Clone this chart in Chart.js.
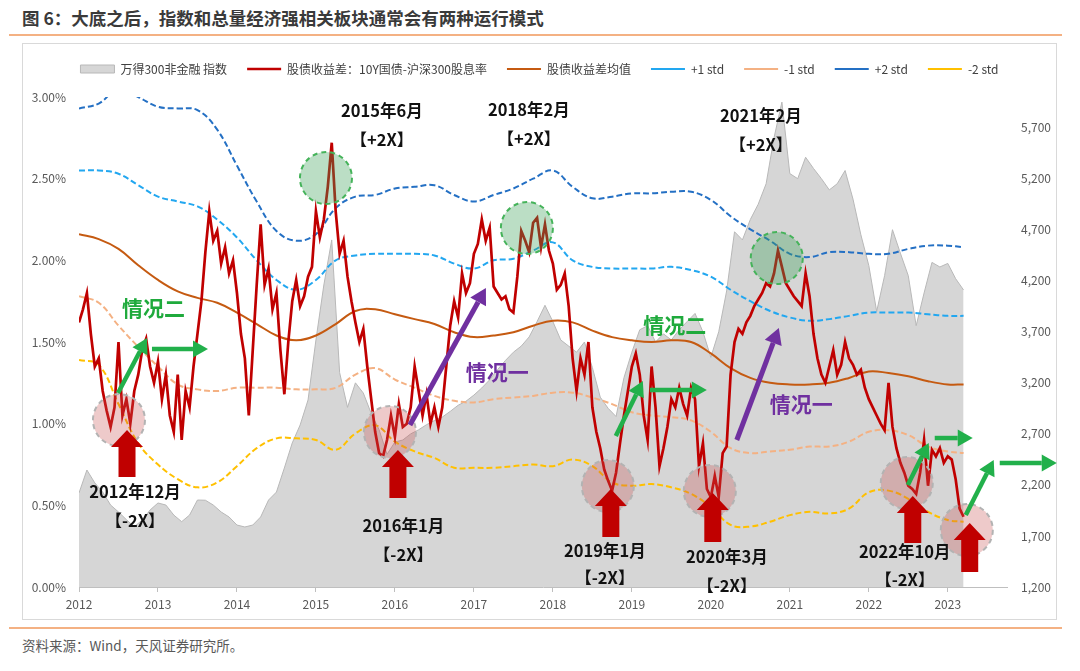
<!DOCTYPE html>
<html>
<head>
<meta charset="utf-8">
<script src="https://cdn.jsdelivr.net/npm/chart.js@4.4.0/dist/chart.umd.min.js"></script>
<style>
body { margin: 0; background: #fff; width: 1080px; height: 671px; position: relative; overflow: hidden;
       font-family: "Noto Sans CJK SC", "Noto Sans", sans-serif; }
#title { position: absolute; left: 22px; top: 6px; font-size: 17.5px; font-weight: bold; color: #3a3a3a;
         line-height: 24px; white-space: nowrap; }
.rule { position: absolute; left: 9px; width: 1053px; height: 2px; background: #f4b183; }
#frame { position: absolute; left: 22px; top: 43px; width: 1035px; height: 577px; box-sizing: border-box;
         border: 1px solid #d9d9d9; }
#wrap { position: absolute; left: 22px; top: 43px; width: 1035px; height: 577px; }
#source { position: absolute; left: 22px; top: 636px; font-size: 13.5px; color: #595959; line-height: 18px; }
</style>
</head>
<body>
<div id="title">图 6：大底之后，指数和总量经济强相关板块通常会有两种运行模式</div>
<div class="rule" style="top:34px"></div>
<div id="frame"></div>
<div id="wrap"><canvas id="chart"></canvas></div>
<div class="rule" style="top:627px"></div>
<div id="source">资料来源：Wind，天风证券研究所。</div>

<script>
// x axis: year labels as printed on the axis
const xTickYears = [2012, 2013, 2014, 2015, 2016, 2017, 2018, 2019, 2020, 2021, 2022, 2023];
const rightTicks = [1200, 1700, 2200, 2700, 3200, 3700, 4200, 4700, 5200, 5700];

// 股债收益差 (%), one value every 0.05 on the year axis, from 2012
const spreadStart = 2012, spreadStep = 0.05;
const spread = [
  1.62, 1.70, 1.80, 1.55, 1.35, 1.40, 1.20, 1.08, 0.98, 1.10,
  1.50, 1.05, 1.15, 1.00, 1.20, 1.30, 1.45, 1.52, 1.35, 1.25,
  1.38, 1.15, 1.30, 1.05, 0.95, 1.30, 0.90, 1.20, 1.10, 1.35,
  1.55, 1.75, 2.05, 2.30, 2.12, 2.18, 1.98, 2.08, 1.92, 2.00,
  1.80, 1.55, 1.40, 1.05, 1.45, 1.85, 2.22, 1.85, 1.95, 1.70,
  1.80, 1.45, 1.18, 1.50, 1.75, 1.88, 1.72, 1.78, 1.90, 1.96,
  2.30, 2.14, 2.25, 2.45, 2.72, 2.30, 2.04, 2.12, 1.90, 1.75,
  1.62, 1.50, 1.58, 1.35, 1.15, 0.95, 0.82, 0.80, 0.90, 1.05,
  0.92, 1.12, 0.98, 1.00, 1.10, 1.35, 1.20, 1.05, 1.18, 1.00,
  1.10, 0.98, 1.10, 1.35, 1.60, 1.75, 1.65, 1.92, 1.80, 1.86,
  2.04, 2.10, 2.25, 2.12, 2.20, 1.84, 1.80, 1.76, 1.78, 1.70,
  1.68, 1.90, 2.18, 2.12, 2.05, 2.23, 2.26, 2.08, 2.22, 2.06,
  1.98, 1.82, 1.85, 1.92, 1.72, 1.40, 1.20, 1.40, 1.30, 1.50,
  1.10, 0.95, 0.85, 0.72, 0.65, 0.59, 0.70, 0.88, 1.05, 1.20,
  1.35, 1.43, 1.30, 1.05, 0.90, 1.35, 1.10, 0.74, 0.85, 0.98,
  1.15, 1.10, 1.22, 1.12, 1.05, 1.22, 1.15, 0.74, 0.88, 0.60,
  0.55, 0.68, 0.55, 0.82, 0.86, 1.30, 1.50, 1.58, 1.55, 1.62,
  1.66, 1.72, 1.76, 1.80, 1.86, 1.84, 1.92, 2.06, 1.96, 1.86,
  1.82, 1.78, 1.75, 1.72, 1.92, 1.78, 1.55, 1.40, 1.30, 1.25,
  1.35, 1.45, 1.30, 1.36, 1.50, 1.40, 1.36, 1.30, 1.33, 1.22,
  1.15, 1.10, 1.05, 1.00, 0.96, 1.25, 0.98, 0.85, 0.76, 0.70,
  0.62, 0.60, 0.57, 0.70, 0.90, 0.62, 0.84, 0.80, 0.85, 0.76,
  0.80, 0.78, 0.66, 0.48, 0.43
];

// 万得300非金融 指数, one value every 0.1 on the year axis
const indexStart = 2012, indexStep = 0.1;
const indexLevel = [
  2121, 2346, 2220, 2130, 2003, 1935, 1860, 1790, 1856, 1954,
  2023, 2003, 1905, 1840, 1905, 2052, 2050, 2003, 1935, 1886,
  1807, 1788, 1807, 1886, 2052, 2130, 2366, 2611, 2787, 3032,
  3620, 4158, 4600, 3300, 2960, 3200, 3100, 2900, 2740, 2500,
  2620, 2640, 2700, 2740, 2790, 2830, 2865, 2920, 2980, 3020,
  3080, 3150, 3230, 3330, 3420, 3500, 3560, 3650, 3800, 3960,
  3800, 3620, 3560, 3500, 3600, 3350, 3060, 2950, 2870, 3250,
  3500, 3720, 3760, 3600, 3680, 3620, 3720, 3800, 3880, 3700,
  3450, 3700, 4100, 4680, 4600, 4800, 4950, 5150, 5600, 5950,
  5250, 5200, 5410, 5300, 5200, 5090, 5150, 5280, 5000, 4650,
  4350, 3900, 4250, 4700, 4470, 4250, 3760, 4080, 4380, 4335,
  4370, 4220, 4110
];

// mean and std bands (%)
const bandYears = [
  2012, 2012.25, 2012.5, 2012.75, 2013, 2013.25, 2013.5, 2013.75, 2014, 2014.25, 2014.5, 2014.75,
  2015, 2015.25, 2015.5, 2015.75, 2016, 2016.25, 2016.5, 2016.75, 2017, 2017.25, 2017.5, 2017.75,
  2018, 2018.25, 2018.5, 2018.75, 2019, 2019.25, 2019.5, 2019.75, 2020, 2020.25, 2020.5, 2020.75,
  2021, 2021.25, 2021.5, 2021.75, 2022, 2022.25, 2022.5, 2022.75, 2023, 2023.2
];
const meanLine = [
  2.16, 2.13, 2.07, 1.97, 1.88, 1.81, 1.77, 1.74, 1.68, 1.61, 1.54, 1.51,
  1.54, 1.61, 1.69, 1.70, 1.67, 1.64, 1.61, 1.56, 1.53, 1.54, 1.56, 1.60,
  1.63, 1.62, 1.57, 1.53, 1.51, 1.50, 1.51, 1.50, 1.43, 1.34, 1.28, 1.25,
  1.24, 1.24, 1.25, 1.28, 1.32, 1.31, 1.29, 1.26, 1.24, 1.24
];
const plus1 = [
  2.55, 2.55, 2.53, 2.46, 2.39, 2.36, 2.33, 2.25, 2.14, 2.00, 1.88, 1.82,
  1.88, 2.00, 2.03, 2.04, 2.04, 2.04, 2.03, 1.98, 1.95, 2.00, 2.01, 2.06,
  2.11, 2.00, 1.96, 1.95, 1.95, 1.95, 1.96, 1.94, 1.90, 1.82, 1.75, 1.69,
  1.65, 1.63, 1.64, 1.66, 1.68, 1.68, 1.68, 1.67, 1.66, 1.66
];
const minus1 = [
  1.78, 1.74, 1.60, 1.47, 1.35, 1.24, 1.21, 1.20, 1.22, 1.22, 1.22, 1.21,
  1.21, 1.22, 1.30, 1.34, 1.27, 1.22, 1.17, 1.14, 1.13, 1.15, 1.16, 1.17,
  1.19, 1.19, 1.16, 1.12, 1.07, 1.05, 1.04, 1.02, 0.95, 0.85, 0.82, 0.83,
  0.84, 0.86, 0.86, 0.89, 0.95, 0.96, 0.93, 0.86, 0.83, 0.82
];
const plus2 = [
  2.93, 2.96, 3.05, 3.00, 2.94, 2.93, 2.92, 2.80, 2.58, 2.36, 2.18, 2.12,
  2.16, 2.32, 2.39, 2.40, 2.44, 2.45, 2.46, 2.40, 2.36, 2.40, 2.44, 2.50,
  2.55, 2.45, 2.38, 2.39, 2.41, 2.41, 2.42, 2.42, 2.37, 2.27, 2.19, 2.12,
  2.04, 2.02, 2.05, 2.05, 2.04, 2.04, 2.07, 2.09, 2.09, 2.08
];
const minus2 = [
  1.39, 1.36, 1.12, 0.88, 0.75, 0.66, 0.61, 0.64, 0.74, 0.85, 0.91, 0.91,
  0.90, 0.84, 0.94, 0.99, 0.89, 0.83, 0.79, 0.73, 0.73, 0.73, 0.74, 0.75,
  0.74, 0.78, 0.74, 0.64, 0.62, 0.63, 0.61, 0.57, 0.49, 0.38, 0.37, 0.40,
  0.44, 0.46, 0.45, 0.48, 0.58, 0.59, 0.54, 0.46, 0.41, 0.40
];

// annotations, in axis units (year, %)
const highCircles = [[2015.127, 2.504], [2017.671, 2.198], [2020.835, 2.014]];
const lowCircles = [[2012.506, 1.022], [2015.937, 0.949], [2018.696, 0.618],
                    [2019.987, 0.588], [2022.481, 0.637], [2023.241, 0.349]];
const upArrows = [[2012.608, 0.961, 0.673], [2016.038, 0.839, 0.545], [2018.734, 0.600, 0.306],
                  [2020.025, 0.576, 0.276], [2022.557, 0.557, 0.269], [2023.278, 0.392, 0.092]];
const greenArrows = [
  [2012.494, 1.188, 2012.861, 1.525], [2012.924, 1.457, 2013.633, 1.457],
  [2018.797, 0.925, 2019.139, 1.261], [2019.228, 1.206, 2019.949, 1.206],
  [2022.494, 0.625, 2022.759, 0.882], [2022.835, 0.912, 2023.316, 0.912],
  [2023.228, 0.441, 2023.582, 0.778], [2023.658, 0.759, 2024.380, 0.759]
];
const purpleArrows = [[2016.190, 0.992, 2017.152, 1.831], [2020.329, 0.900, 2020.861, 1.586]];
const dateNotes = [
  ['2015年6月', '【+2X】', 2015.835, 2.914, 2.737],
  ['2018年2月', '【+2X】', 2017.696, 2.920, 2.743],
  ['2021年2月', '【+2X】', 2020.633, 2.884, 2.706],
  ['2012年12月', '【-2X】', 2012.709, 0.582, 0.404],
  ['2016年1月', '【-2X】', 2016.108, 0.373, 0.196],
  ['2019年1月', '【-2X】', 2018.658, 0.220, 0.055],
  ['2020年3月', '【-2X】', 2020.203, 0.184, 0.006],
  ['2022年10月', '【-2X】', 2022.456, 0.214, 0.043]
];
const caseNotes = [
  ['情况二', 2012.943, 1.708, '#1faa3c'],
  ['情况二', 2019.544, 1.604, '#1faa3c'],
  ['情况一', 2017.297, 1.316, '#7030a0'],
  ['情况一', 2021.146, 1.120, '#7030a0']
];

const FONT = '"Noto Sans CJK SC", "Noto Sans", sans-serif';
Chart.defaults.font.family = FONT;
Chart.defaults.color = '#595959';

function lineArrow(ctx, x1, y1, x2, y2, color, width, headLen, headHalf) {
  const ang = Math.atan2(y2 - y1, x2 - x1);
  const bx = x2 - Math.cos(ang) * headLen, by = y2 - Math.sin(ang) * headLen;
  ctx.strokeStyle = color;
  ctx.lineWidth = width;
  ctx.setLineDash([]);
  ctx.beginPath();
  ctx.moveTo(x1, y1);
  ctx.lineTo(bx, by);
  ctx.stroke();
  ctx.fillStyle = color;
  ctx.beginPath();
  ctx.moveTo(x2, y2);
  ctx.lineTo(bx + Math.sin(ang) * headHalf, by - Math.cos(ang) * headHalf);
  ctx.lineTo(bx - Math.sin(ang) * headHalf, by + Math.cos(ang) * headHalf);
  ctx.closePath();
  ctx.fill();
}

function blockArrow(ctx, x, tipY, baseY) {
  const headH = 17, headW = 16, shaftW = 8.5;
  ctx.fillStyle = '#c00000';
  ctx.beginPath();
  ctx.moveTo(x, tipY);
  ctx.lineTo(x + headW, tipY + headH);
  ctx.lineTo(x + shaftW, tipY + headH);
  ctx.lineTo(x + shaftW, baseY);
  ctx.lineTo(x - shaftW, baseY);
  ctx.lineTo(x - shaftW, tipY + headH);
  ctx.lineTo(x - headW, tipY + headH);
  ctx.closePath();
  ctx.fill();
}

const notesPlugin = {
  id: 'notes',
  afterDraw(chart) {
    const ctx = chart.ctx;
    const X = v => chart.scales.x.getPixelForValue(v);
    const Y = v => chart.scales.y.getPixelForValue(v);
    ctx.save();

    ctx.lineWidth = 2;
    ctx.setLineDash([5, 4]);
    highCircles.forEach(c => {
      ctx.beginPath();
      ctx.arc(X(c[0]), Y(c[1]), 26, 0, Math.PI * 2);
      ctx.fillStyle = 'rgba(60,160,90,0.35)';
      ctx.fill();
      ctx.strokeStyle = '#45b35a';
      ctx.stroke();
    });
    lowCircles.forEach(c => {
      ctx.beginPath();
      ctx.arc(X(c[0]), Y(c[1]), 26, 0, Math.PI * 2);
      ctx.fillStyle = 'rgba(200,80,80,0.3)';
      ctx.fill();
      ctx.strokeStyle = '#b3b3b3';
      ctx.stroke();
    });
    ctx.setLineDash([]);

    upArrows.forEach(a => blockArrow(ctx, X(a[0]), Y(a[1]), Y(a[2])));
    greenArrows.forEach(a => lineArrow(ctx, X(a[0]), Y(a[1]), X(a[2]), Y(a[3]), '#22b04b', 4.5, 15, 8.5));
    purpleArrows.forEach(a => lineArrow(ctx, X(a[0]), Y(a[1]), X(a[2]), Y(a[3]), '#7030a0', 5, 16, 9));

    ctx.textAlign = 'center';
    ctx.textBaseline = 'middle';
    ctx.fillStyle = '#111';
    ctx.font = 'bold 16.5px ' + FONT;
    dateNotes.forEach(n => {
      ctx.fillText(n[0], X(n[2]), Y(n[3]));
      ctx.fillText(n[1], X(n[2]), Y(n[4]));
    });
    ctx.font = 'bold 21px ' + FONT;
    caseNotes.forEach(n => {
      ctx.fillStyle = n[3];
      ctx.fillText(n[0], X(n[1]), Y(n[2]));
    });
    ctx.restore();
  }
};

const bandSet = (label, values, color, order) => ({
  label: label,
  data: values.map((v, i) => ({ x: bandYears[i], y: v })),
  yAxisID: 'y',
  borderColor: color,
  borderWidth: 2,
  borderDash: [6, 3],
  pointRadius: 0,
  tension: 0.4,
  fill: false,
  order: order,
  pointStyle: 'line'
});

new Chart(document.getElementById('chart'), {
  type: 'line',
  data: {
    datasets: [
      {
        label: '万得300非金融 指数',
        data: indexLevel.map((v, i) => ({ x: indexStart + i * indexStep, y: v })),
        yAxisID: 'y2',
        borderColor: '#b8b8b8',
        borderWidth: 1,
        backgroundColor: '#d6d6d6',
        fill: 'start',
        pointRadius: 0,
        tension: 0,
        order: 10,
        pointStyle: 'rect'
      },
      {
        label: '股债收益差：10Y国债-沪深300股息率',
        data: spread.map((v, i) => ({ x: spreadStart + i * spreadStep, y: v })),
        yAxisID: 'y',
        borderColor: '#c00000',
        borderWidth: 2.7,
        pointRadius: 0,
        tension: 0,
        fill: false,
        order: 0,
        pointStyle: 'line'
      },
      {
        label: '股债收益差均值',
        data: meanLine.map((v, i) => ({ x: bandYears[i], y: v })),
        yAxisID: 'y',
        borderColor: '#c55a11',
        borderWidth: 2,
        pointRadius: 0,
        tension: 0.4,
        fill: false,
        order: 1,
        pointStyle: 'line'
      },
      bandSet('+1 std', plus1, '#22a7f0', 2),
      bandSet('-1 std', minus1, '#f4b183', 3),
      bandSet('+2 std', plus2, '#2470c4', 4),
      bandSet('-2 std', minus2, '#ffc000', 5)
    ]
  },
  options: {
    responsive: true,
    maintainAspectRatio: false,
    animation: false,
    events: [],
    layout: { padding: 0 },
    plugins: {
      tooltip: { enabled: false },
      legend: {
        position: 'top',
        labels: {
          usePointStyle: true,
          pointStyleWidth: 34,
          boxHeight: 8,
          padding: 20,
          color: '#404040',
          font: { size: 12 },
          sort: (a, b) => a.datasetIndex - b.datasetIndex
        }
      },
      // empty spacer below the legend
      title: { display: true, text: '', weight: 500, padding: 0, font: { size: 12, lineHeight: 1 } }
    },
    scales: {
      x: {
        type: 'linear',
        min: 2012,
        max: 2023.75,
        afterBuildTicks: s => { s.ticks = xTickYears.map(v => ({ value: v })); },
        afterFit: s => { s.height = 33; },
        ticks: { callback: v => String(v), color: '#595959', font: { size: 12 }, padding: 5, maxRotation: 0, autoSkip: false },
        grid: { drawOnChartArea: false, drawTicks: true, tickLength: 5, color: '#bfbfbf' },
        border: { display: true, color: '#bfbfbf' }
      },
      y: {
        position: 'left',
        min: 0,
        max: 3,
        afterFit: s => { s.width = 57; },
        ticks: { stepSize: 0.5, callback: v => v.toFixed(2) + '%', padding: 13, color: '#595959', font: { size: 12 } },
        grid: { display: false, drawTicks: false },
        border: { display: false }
      },
      y2: {
        position: 'right',
        min: 1200,
        max: 6000,
        afterBuildTicks: s => { s.ticks = rightTicks.map(v => ({ value: v })); },
        afterFit: s => { s.width = 50; },
        ticks: { callback: v => v.toLocaleString('en-US'), padding: 14, color: '#595959', font: { size: 12 } },
        grid: { display: false, drawTicks: false },
        border: { display: false }
      }
    }
  },
  plugins: [notesPlugin]
});
</script>
</body>
</html>
